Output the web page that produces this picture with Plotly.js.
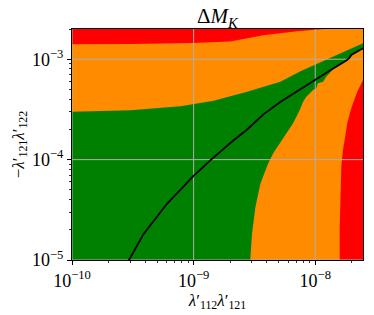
<!DOCTYPE html>
<html>
<head>
<meta charset="utf-8">
<script src="https://cdn.plot.ly/plotly-3.0.1.min.js"></script>
<style>html,body{margin:0;padding:0;background:#fff;}#chart{width:374px;height:315px;}</style>
</head>
<body>
<div id="chart"></div>
<script>
// ---- data ----
// full plotted domain (orange background region)
const domainX = [1e-10, 2.47e-8];
const domainY = [1e-5, 2.0e-3];

// red region at the top: lower boundary
const redTopX = [1e-10, 3.01e-10, 9.94e-10, 2.0e-9, 3.75e-9, 7.08e-9, 1.25e-8, 1.61e-8];
const redTopY = [1.41e-3, 1.42e-3, 1.45e-3, 1.50e-3, 1.73e-3, 1.90e-3, 2.01e-3, 2.10e-3];

// green region: upper boundary (left to right)
const greenTopX = [1e-10, 3.01e-10, 7.78e-10, 9.89e-10, 1.46e-9, 2.75e-9, 5.16e-9, 7.55e-9, 9.89e-9, 1.61e-8, 2.47e-8];
const greenTopY = [2.99e-4, 3.11e-4, 3.41e-4, 3.57e-4, 3.85e-4, 4.74e-4, 5.97e-4, 7.59e-4, 8.77e-4, 1.156e-3, 1.445e-3];

// green region: lower-right boundary (top to bottom)
const greenLowX = [1.80e-8, 1.59e-8, 1.40e-8, 1.31e-8, 1.23e-8, 1.16e-8, 1.05e-8, 1.02e-8, 9.59e-9, 8.45e-9, 7.94e-9, 7.45e-9, 6.56e-9, 5.78e-9, 5.09e-9, 4.50e-9, 4.09e-9, 3.54e-9, 3.22e-9, 3.02e-9, 2.92e-9];
const greenLowY = [9.68e-4, 8.77e-4, 7.94e-4, 7.24e-4, 6.70e-4, 5.97e-4, 5.75e-4, 5.13e-4, 4.93e-4, 4.23e-4, 3.77e-4, 3.11e-4, 2.29e-4, 1.82e-4, 1.45e-4, 1.15e-4, 9.12e-5, 5.75e-5, 3.36e-5, 1.82e-5, 9.84e-6];

// red region at the right: left boundary (top to bottom)
const redRightX = [2.47e-8, 2.21e-8, 1.98e-8, 1.84e-8, 1.77e-8, 1.69e-8, 1.64e-8, 1.61e-8, 1.59e-8, 1.59e-8];
const redRightY = [6.21e-4, 4.71e-4, 3.26e-4, 2.36e-4, 1.75e-4, 1.24e-4, 8.77e-5, 4.93e-5, 2.20e-5, 9.84e-6];

// black curve
const curveX = [2.92e-10, 3.88e-10, 6.04e-10, 9.89e-10, 1.37e-9, 2.13e-9, 2.71e-9, 3.77e-9, 5.16e-9, 7.0e-9, 9.89e-9, 1.31e-8, 1.80e-8, 1.90e-8, 1.98e-8, 2.47e-8];
const curveY = [9.84e-6, 1.82e-5, 3.63e-5, 6.81e-5, 9.84e-5, 1.56e-4, 1.96e-4, 2.84e-4, 3.74e-4, 4.74e-4, 6.31e-4, 7.69e-4, 9.68e-4, 1.023e-3, 1.104e-3, 1.288e-3];

// major ticks (grid lines) and their labels
const xTicks = [1e-10, 1e-9, 1e-8];
const xTickText = ['10<sup>−10</sup>', '10<sup>−9</sup>', '10<sup>−8</sup>'];
const yTicks = [1e-5, 1e-4, 1e-3];
const yTickText = ['10<sup>−5</sup>', '10<sup>−4</sup>', '10<sup>−3</sup>'];
const minorDigits = [2, 3, 4, 5, 6, 7, 8, 9];

// ---- build traces ----
const RED = '#ff0000', ORANGE = '#ff8c00', GREEN = '#008000';
const loX = domainX[0] * 0.9, hiX = domainX[1] * 1.1;
const loY = domainY[0] * 0.9, hiY = domainY[1] * 1.3;

const traces = [];
function poly(xs, ys, color) {
  traces.push({x: xs, y: ys, type: 'scatter', mode: 'lines', fill: 'toself',
    fillcolor: color, line: {width: 0, color: color}, hoverinfo: 'skip', showlegend: false});
}

// orange base
poly([loX, hiX, hiX, loX], [loY, loY, hiY, hiY], ORANGE);

// red top
poly([loX].concat(redTopX, [redTopX[redTopX.length - 1], loX]),
     [redTopY[0]].concat(redTopY, [hiY, hiY]), RED);

// green region
{
  const xs = [loX, loX].concat(greenTopX);
  const ys = [loY, greenTopY[0]].concat(greenTopY);
  xs.push(hiX); ys.push(greenTopY[greenTopY.length - 1]);
  const startX = greenLowX[0];
  for (let i = curveX.length - 1; i >= 0; i--) {
    if (curveX[i] >= startX) { xs.push(curveX[i]); ys.push(curveY[i]); }
  }
  for (let i = 0; i < greenLowX.length; i++) { xs.push(greenLowX[i]); ys.push(greenLowY[i]); }
  xs.push(greenLowX[greenLowX.length - 1]); ys.push(loY);
  poly(xs, ys, GREEN);
}

// red right
poly(redRightX.concat([redRightX[redRightX.length - 1], hiX, hiX]),
     redRightY.concat([loY, loY, redRightY[0]]), RED);

// grid lines above the filled regions
xTicks.forEach(v => traces.push({x: [v, v], y: [loY, hiY], type: 'scatter', mode: 'lines',
  line: {color: '#b0b0b0', width: 1}, hoverinfo: 'skip', showlegend: false}));
yTicks.forEach(v => traces.push({x: [loX, hiX], y: [v, v], type: 'scatter', mode: 'lines',
  line: {color: '#b0b0b0', width: 1}, hoverinfo: 'skip', showlegend: false}));

// black curve
traces.push({x: curveX, y: curveY, type: 'scatter', mode: 'lines',
  line: {color: '#000000', width: 1.8}, hoverinfo: 'skip', showlegend: false});

function minorVals(majors) {
  const out = [];
  majors.concat([majors[majors.length - 1] * 10]).forEach(m => minorDigits.forEach(d => out.push(m * d)));
  return out;
}

const FONT = 'Liberation Serif, DejaVu Serif, serif';
function axis(range, majors, labels, titleText) {
  return {
    type: 'log', range: range, showgrid: false, zeroline: false,
    showline: true, mirror: true, linecolor: '#000', linewidth: 1,
    ticks: 'outside', ticklen: 4, tickwidth: 1, tickcolor: '#000',
    tickmode: 'array', tickvals: majors, ticktext: labels,
    minor: {ticks: 'outside', ticklen: 2.2, tickcolor: '#000', tickwidth: 0.8,
            tickmode: 'array', tickvals: minorVals(majors), showgrid: false},
    tickfont: {family: FONT, size: 18, color: '#000'},
    title: {text: titleText, font: {family: FONT, size: 17, color: '#000'}, standoff: 3}
  };
}

const layout = {
  width: 374, height: 315,
  margin: {l: 72, r: 11, t: 29, b: 55},
  paper_bgcolor: '#fff', plot_bgcolor: '#fff',
  showlegend: false,
  title: {text: 'Δ<i>M</i><sub><i>K</i></sub>', font: {family: FONT, size: 21, color: '#000'},
          x: 0.5815, xanchor: 'center', y: 0.95, yanchor: 'middle'},
  xaxis: axis([Math.log10(domainX[0]), Math.log10(domainX[1])], xTicks, xTickText,
              '<i>λ</i>′<sub>112</sub><i>λ</i>′<sub>121</sub>'),
  yaxis: axis([Math.log10(domainY[0]), Math.log10(domainY[1])], yTicks, yTickText,
              '−<i>λ</i>′<sub>121</sub><i>λ</i>′<sub>122</sub>')
};

Plotly.newPlot('chart', traces, layout, {staticPlot: true, displayModeBar: false});
</script>
</body>
</html>
